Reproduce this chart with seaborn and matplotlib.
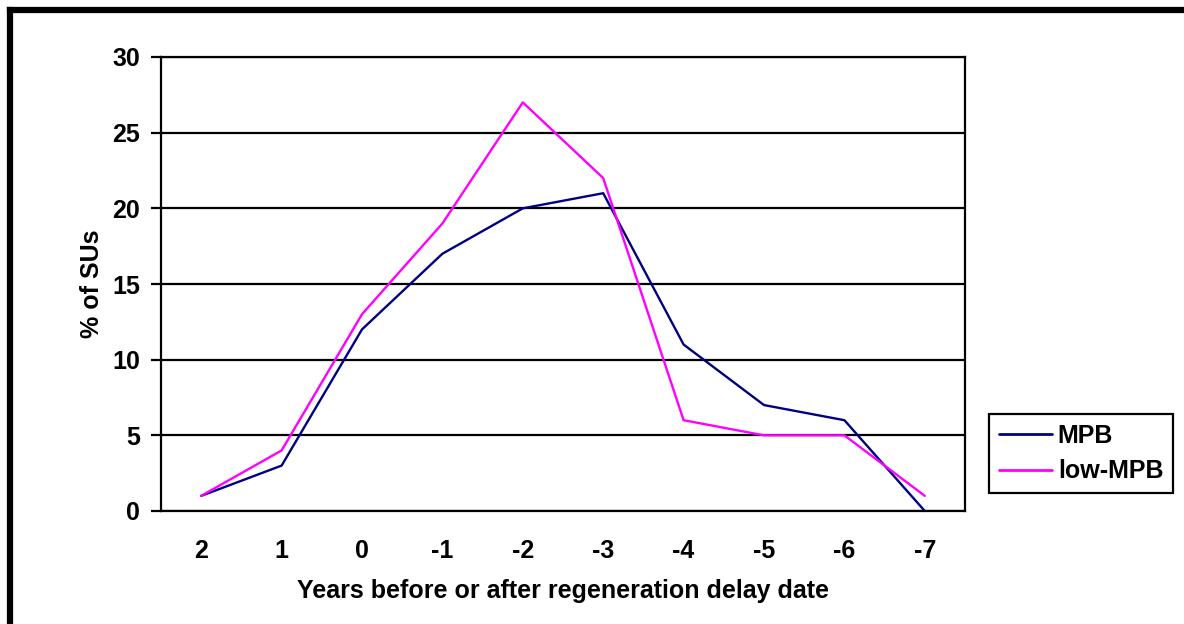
import pandas as pd
import seaborn as sns
import matplotlib.pyplot as plt
from matplotlib.lines import Line2D

# Data
years = ['2', '1', '0', '-1', '-2', '-3', '-4', '-5', '-6', '-7']
mpb = [1, 3, 12, 17, 20, 21, 11, 7, 6, 0]
low_mpb = [1, 4, 13, 19, 27, 22, 6, 5, 5, 1]

df = pd.DataFrame({
    'year': years * 2,
    'pct': mpb + low_mpb,
    'series': ['MPB'] * len(years) + ['low-MPB'] * len(years),
})

sns.set_style('white')
plt.rcParams['font.family'] = ['Liberation Sans', 'DejaVu Sans']
plt.rcParams['font.weight'] = 'bold'
plt.rcParams['text.color'] = 'black'
plt.rcParams['axes.labelcolor'] = 'black'
plt.rcParams['xtick.color'] = 'black'
plt.rcParams['ytick.color'] = 'black'

fs = 18

fig = plt.figure(figsize=(11.84, 6.24), dpi=100)
ax = fig.add_axes([161 / 1184, 1 - 511 / 624, (965 - 161) / 1184, (511 - 57) / 624])

sns.lineplot(data=df, x='year', y='pct', hue='series', sort=False,
             palette={'MPB': '#000080', 'low-MPB': '#FF00FF'},
             linewidth=1.7, ax=ax, legend=False, clip_on=False)

ax.set_xlim(-0.5, len(years) - 0.5)
ax.set_ylim(0, 30)
ax.set_yticks(range(0, 31, 5))
ax.yaxis.grid(True, color='black', linewidth=1.6)
ax.xaxis.grid(False)
ax.set_axisbelow(True)

# category labels centred, tick marks between categories
ax.set_xticks(range(len(years)))
ax.set_xticklabels(years)
ax.set_xticks([i - 0.5 for i in range(len(years) + 1)], minor=True)
ax.tick_params(axis='x', which='major', length=0, pad=20, labelsize=fs)
ax.tick_params(axis='x', which='minor', length=7, width=1.6, color='black', direction='out')
ax.tick_params(axis='y', length=7, width=1.6, color='black', direction='out', left=True, labelsize=fs, pad=8)

for side in ['left', 'bottom', 'right', 'top']:
    ax.spines[side].set_visible(True)
    ax.spines[side].set_color('black')
    ax.spines[side].set_linewidth(1.6)

ax.set_xlabel('Years before or after regeneration delay date', fontsize=fs, fontweight='bold', labelpad=12)
ax.set_ylabel('% of SUs', fontsize=fs, fontweight='bold', labelpad=6)

handles = [Line2D([], [], color='#000080', linewidth=2),
           Line2D([], [], color='#FF00FF', linewidth=2)]
leg = fig.legend(handles, ['MPB', 'low-MPB'], loc='upper left',
                 bbox_to_anchor=(989 / 1184, 1 - 414 / 624),
                 prop={'size': fs, 'weight': 'bold'}, frameon=True,
                 fancybox=False, edgecolor='black', framealpha=1,
                 handlelength=2.1, handletextpad=0.25, borderpad=0.4,
                 labelspacing=0.45, borderaxespad=0)
leg.get_frame().set_linewidth(1.6)

# thick frame on the left and top of the figure
fig.add_artist(Line2D([10 / 1184, 10 / 1184], [0, 1 - 10 / 624], color='black', linewidth=4.5, solid_capstyle='projecting'))
fig.add_artist(Line2D([10 / 1184, 1], [1 - 10 / 624, 1 - 10 / 624], color='black', linewidth=4.5, solid_capstyle='projecting'))

fig.savefig('out.png', dpi=100)
